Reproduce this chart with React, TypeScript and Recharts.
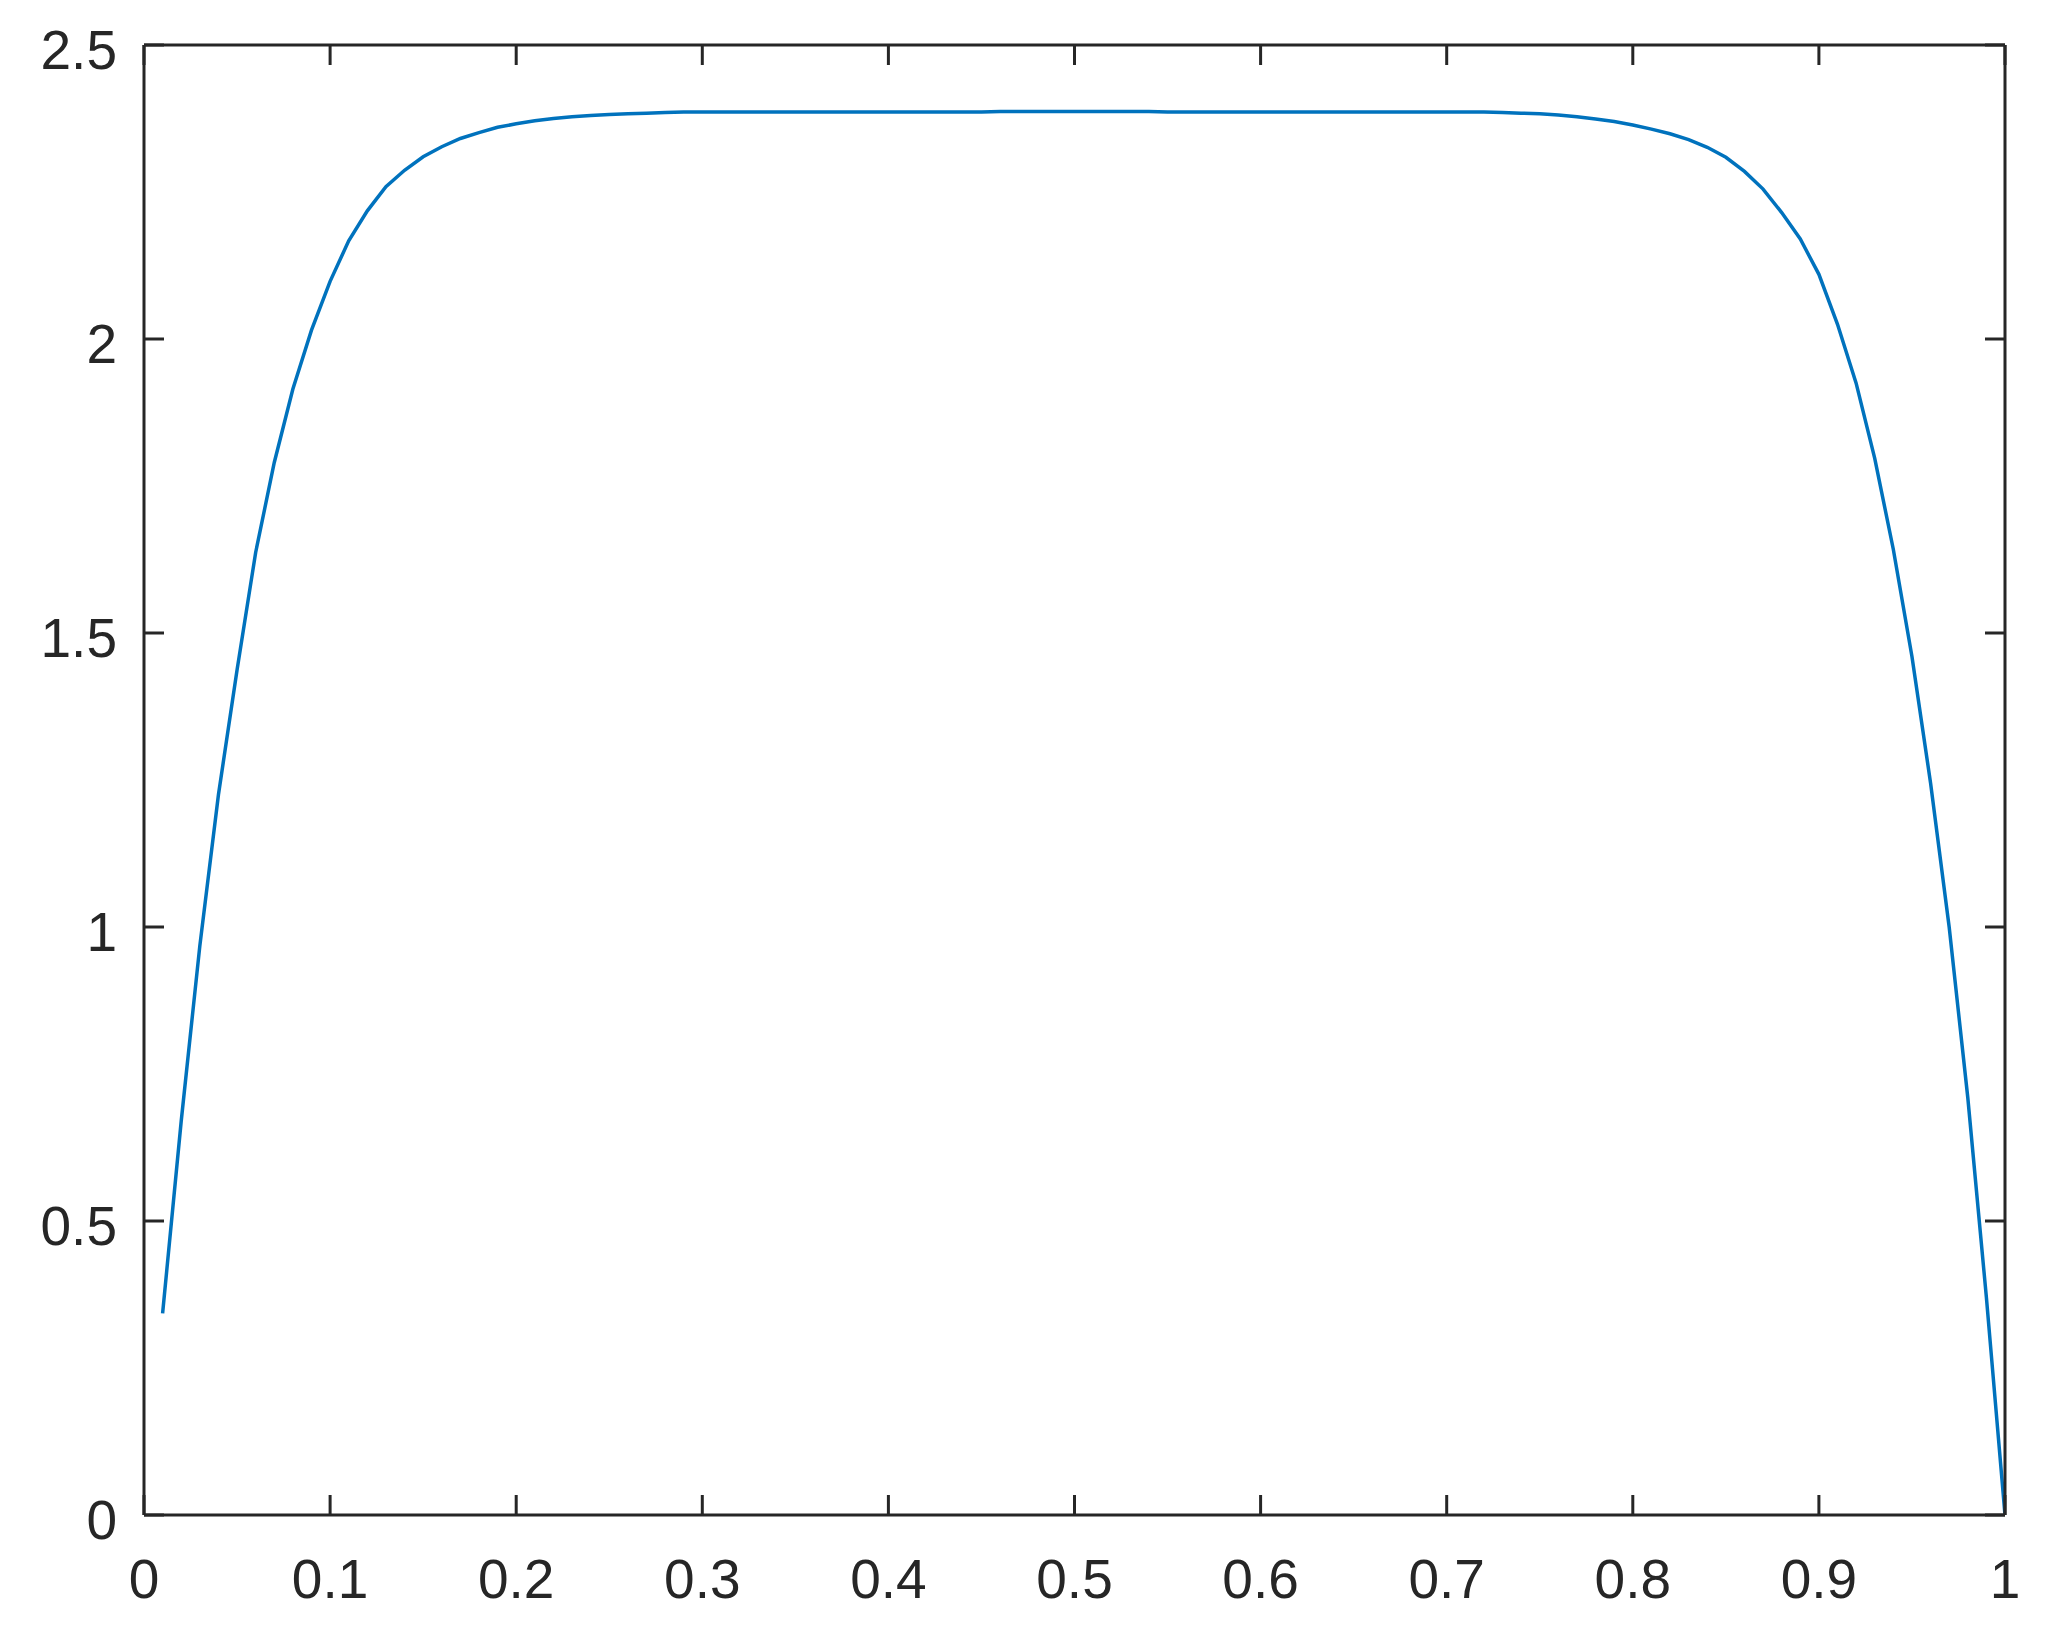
import { LineChart, Line, XAxis, YAxis } from "recharts";

// sample positions along x (0.01 .. 1.00)
const xValues = [
  0.01, 0.02, 0.03, 0.04, 0.05, 0.06, 0.07, 0.08, 0.09, 0.1,
  0.11, 0.12, 0.13, 0.14, 0.15, 0.16, 0.17, 0.18, 0.19, 0.2,
  0.21, 0.22, 0.23, 0.24, 0.25, 0.26, 0.27, 0.28, 0.29, 0.3,
  0.31, 0.32, 0.33, 0.34, 0.35, 0.36, 0.37, 0.38, 0.39, 0.4,
  0.41, 0.42, 0.43, 0.44, 0.45, 0.46, 0.47, 0.48, 0.49, 0.5,
  0.51, 0.52, 0.53, 0.54, 0.55, 0.56, 0.57, 0.58, 0.59, 0.6,
  0.61, 0.62, 0.63, 0.64, 0.65, 0.66, 0.67, 0.68, 0.69, 0.7,
  0.71, 0.72, 0.73, 0.74, 0.75, 0.76, 0.77, 0.78, 0.79, 0.8,
  0.81, 0.82, 0.83, 0.84, 0.85, 0.86, 0.87, 0.88, 0.89, 0.9,
  0.91, 0.92, 0.93, 0.94, 0.95, 0.96, 0.97, 0.98, 0.99, 1.0,
];

// curve values
const yValues = [
  0.343, 0.67, 0.968, 1.225, 1.437, 1.637, 1.79, 1.915, 2.015, 2.098,
  2.167, 2.218, 2.259, 2.287, 2.31, 2.327, 2.341, 2.351, 2.36, 2.366,
  2.371, 2.375, 2.378, 2.38, 2.382, 2.383, 2.384, 2.385, 2.386, 2.386,
  2.386, 2.386, 2.386, 2.386, 2.386, 2.386, 2.386, 2.386, 2.386, 2.386,
  2.386, 2.386, 2.386, 2.386, 2.386, 2.387, 2.387, 2.387, 2.387, 2.387,
  2.387, 2.387, 2.387, 2.387, 2.386, 2.386, 2.386, 2.386, 2.386, 2.386,
  2.386, 2.386, 2.386, 2.386, 2.386, 2.386, 2.386, 2.386, 2.386, 2.386,
  2.386, 2.386, 2.385, 2.384, 2.383, 2.381, 2.378, 2.374, 2.37, 2.364,
  2.357, 2.349, 2.339, 2.326, 2.309, 2.285, 2.255, 2.215, 2.17, 2.11,
  2.025, 1.925, 1.797, 1.642, 1.46, 1.245, 1.0, 0.71, 0.37, 0.0,
];

const xTicks = [0, 0.1, 0.2, 0.3, 0.4, 0.5, 0.6, 0.7, 0.8, 0.9, 1];
const yTicks = [0, 0.5, 1, 1.5, 2, 2.5];

const data = xValues.map((x, i) => ({ x, y: yValues[i] }));

const AXIS = "#262626";
const FONT = "'Liberation Sans', Arial, Helvetica, sans-serif";

const XTick = (props: any) => {
  const { x, y, payload } = props;
  return (
    <text x={x} y={y + 38} textAnchor="middle" fill={AXIS} fontSize={55} fontFamily={FONT}>
      {String(payload.value)}
    </text>
  );
};

const YTick = (props: any) => {
  const { x, y, payload } = props;
  return (
    <text x={x} y={y + 24} textAnchor="end" fill={AXIS} fontSize={55} fontFamily={FONT}>
      {String(payload.value)}
    </text>
  );
};

// mirrored axes (top / right) keep their tick marks but have no labels
const NoLabel = () => <g />;

export default function App() {
  const axisLine = { stroke: AXIS, strokeWidth: 3 };
  const tickLine = { stroke: AXIS, strokeWidth: 3 };
  return (
    <div style={{ position: "absolute", left: 0, top: 0, background: "#fff" }}>
      <style>{"body{margin:0;background:#fff}"}</style>
      <LineChart
        width={2060}
        height={1641}
        data={data}
        margin={{ top: 0, right: 0, bottom: 0, left: 0 }}
      >
        <XAxis
          dataKey="x"
          type="number"
          domain={[0, 1]}
          ticks={xTicks}
          height={126}
          tickSize={-20}
          tickMargin={65}
          axisLine={axisLine}
          tickLine={tickLine}
          tick={<XTick />}
          interval={0}
          allowDataOverflow
        />
        <XAxis
          xAxisId="top"
          orientation="top"
          dataKey="x"
          type="number"
          domain={[0, 1]}
          ticks={xTicks}
          height={45}
          tickSize={-20}
          axisLine={axisLine}
          tickLine={tickLine}
          tick={<NoLabel />}
          interval={0}
          allowDataOverflow
        />
        <YAxis
          type="number"
          domain={[0, 2.5]}
          ticks={yTicks}
          width={144}
          tickSize={-20}
          tickMargin={47}
          axisLine={axisLine}
          tickLine={tickLine}
          tick={<YTick />}
          interval={0}
          allowDataOverflow
        />
        <YAxis
          yAxisId="right"
          orientation="right"
          type="number"
          domain={[0, 2.5]}
          ticks={yTicks}
          width={55}
          tickSize={-20}
          axisLine={axisLine}
          tickLine={tickLine}
          tick={<NoLabel />}
          interval={0}
          allowDataOverflow
        />
        <Line
          dataKey="y"
          type="linear"
          stroke="#0072BD"
          strokeWidth={3.5}
          dot={false}
          isAnimationActive={false}
        />
      </LineChart>
    </div>
  );
}
